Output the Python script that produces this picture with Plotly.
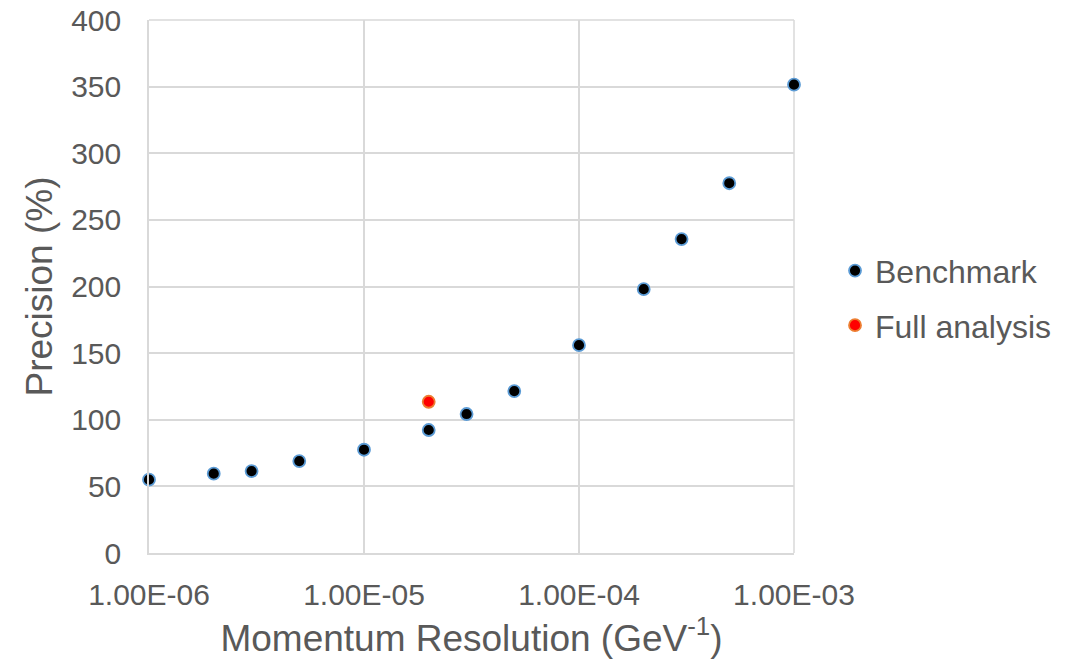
import plotly.graph_objects as go

bench_x = [1e-6, 2e-6, 3e-6, 5e-6, 1e-5, 2e-5, 3e-5, 5e-5, 1e-4, 2e-4, 3e-4, 5e-4, 1e-3]
bench_y = [55, 59.5, 61.5, 69, 77.5, 92.3, 104.3, 121.5, 156, 198, 235.6, 277.5, 351.5]
full_x = [2e-5]
full_y = [113.5]
x_tickvals = [1e-6, 1e-5, 1e-4, 1e-3]
x_ticktext = ["1.00E-06", "1.00E-05", "1.00E-04", "1.00E-03"]
y_tickvals = [0, 50, 100, 150, 200, 250, 300, 350, 400]

FONT = "Liberation Sans, Arial, sans-serif"
TXT = "#595959"
GRID = "#d9d9d9"

fig = go.Figure()
fig.add_trace(go.Scatter(
    x=bench_x, y=bench_y, mode="markers", name="Benchmark", legendgroup="a",
    cliponaxis=False,
    marker=dict(size=12, color="#000000", line=dict(color="#5b9bd5", width=1.8)),
))
fig.add_trace(go.Scatter(
    x=full_x, y=full_y, mode="markers", name="Full analysis", legendgroup="b",
    cliponaxis=False,
    marker=dict(size=12, color="#ff0000", line=dict(color="#ed7d31", width=1.8)),
))

fig.update_layout(
    width=1074, height=662,
    margin=dict(l=149, r=280, t=20, b=109, autoexpand=False),
    paper_bgcolor="white", plot_bgcolor="white",
    font=dict(family=FONT, color=TXT, size=30),
    showlegend=True,
    legend=dict(x=1.0636, y=0.478, xanchor="left", yanchor="middle",
                font=dict(size=32, color=TXT, family=FONT),
                itemwidth=30, tracegroupgap=10, bgcolor="rgba(0,0,0,0)"),
    xaxis=dict(
        type="log", range=[-6.00005, -2.99995], automargin=False,
        tickvals=x_tickvals, ticktext=x_ticktext,
        showgrid=True, gridcolor=GRID, gridwidth=1.5,
        showline=True, linecolor=GRID, linewidth=1.5, mirror=False,
        zeroline=False, ticks="", ticklen=0, ticklabelstandoff=14,
        tickfont=dict(size=30, color=TXT, family=FONT),
        title=dict(text="Momentum Resolution (GeV<sup>-1</sup>)",
                   font=dict(size=37, color=TXT, family=FONT), standoff=15),
    ),
    yaxis=dict(
        range=[0, 400], tickvals=y_tickvals, automargin=False,
        showgrid=True, gridcolor=GRID, gridwidth=1.5,
        showline=True, linecolor=GRID, linewidth=1.5,
        zeroline=False, ticks="", ticklen=0, ticklabelstandoff=20,
        tickfont=dict(size=30, color=TXT, family=FONT),
        title=dict(text="Precision (%)", font=dict(size=37, color=TXT, family=FONT), standoff=7),
    ),
)
fig.add_shape(type="line", xref="paper", yref="paper", x0=0, x1=1, y0=1, y1=1,
              line=dict(color=GRID, width=1.5), layer="below")
fig.add_shape(type="line", xref="paper", yref="paper", x0=1, x1=1, y0=0, y1=1,
              line=dict(color=GRID, width=1.5), layer="below")

fig.write_html("out.html", config={"displayModeBar": False},
               post_script="document.body.style.margin='0';")
